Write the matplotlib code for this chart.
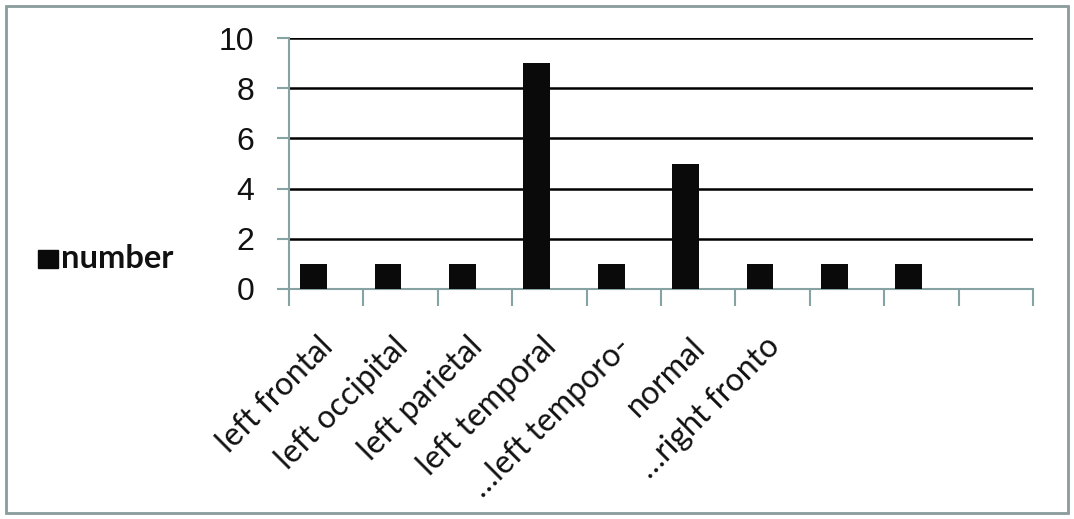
import matplotlib
matplotlib.use("Agg")
import matplotlib.pyplot as plt
import matplotlib.transforms as mtransforms
import numpy as np
from matplotlib.patches import Rectangle

categories = ["left frontal", "left occipital", "left parietal", "left temporal",
              "…left temporo-", "normal", "…right fronto", "", "", ""]
values = [1, 1, 1, 9, 1, 5, 1, 1, 1, np.nan]
yticks = [0, 2, 4, 6, 8, 10]
series_name = "number"

W, H = 1074, 519
fig = plt.figure(figsize=(W / 100, H / 100), dpi=100)
fig.patch.set_facecolor("white")

axc = "#86a2a2"
ax = fig.add_axes([289 / W, 1 - 289 / H, (1033 - 289) / W, (289 - 38) / H])
x = np.arange(len(categories))
ax.bar(x - 0.17, values, width=0.36, color="#0a0a0a", zorder=3)

ax.set_xlim(-0.5, len(categories) - 0.5)
ax.set_ylim(0, 10)
ax.set_yticks(yticks)
ax.set_yticklabels([str(v) for v in yticks], family=["Liberation Sans Narrow", "Liberation Sans"],
                   fontsize=23, color="#111111")
for v in yticks[1:]:
    ax.axhline(v, color="black", lw=1.8, zorder=1)

ax.set_xticks(x)
ax.set_xticks(np.arange(-0.5, len(categories)), minor=True)
ax.tick_params(axis="x", which="major", length=0, pad=27)
ax.tick_params(axis="x", which="minor", length=12, width=1.5, color=axc)
ax.tick_params(axis="y", length=9, width=1.5, color=axc, pad=16)
ax.set_xticklabels(categories, rotation=45, ha="right", va="top", rotation_mode="anchor",
                   family=["Lato", "DejaVu Sans"], fontsize=23, color="#111111")
offset = mtransforms.ScaledTranslation(-8 / 100, -5 / 100, fig.dpi_scale_trans)
for lbl in ax.get_xticklabels():
    lbl.set_transform(lbl.get_transform() + offset)

for s in ["top", "right"]:
    ax.spines[s].set_visible(False)
for s in ["left", "bottom"]:
    ax.spines[s].set_color(axc)
    ax.spines[s].set_linewidth(1.5)

# legend
fig.patches.append(Rectangle((38 / W, 1 - 268 / H), 20 / W, 18 / H, transform=fig.transFigure,
                             color="#0a0a0a", figure=fig))
fig.text(61 / W, 1 - 259 / H, series_name, family=["Lato", "DejaVu Sans"], fontweight="bold",
         fontsize=23.5, va="center", ha="left", color="#111111")

# outer border
fig.patches.append(Rectangle((6 / W, 6 / H), (1068 - 6) / W, (513 - 6) / H, transform=fig.transFigure,
                             fill=False, edgecolor="#8a9c9c", lw=2, figure=fig))

fig.savefig("out.png", dpi=100)
